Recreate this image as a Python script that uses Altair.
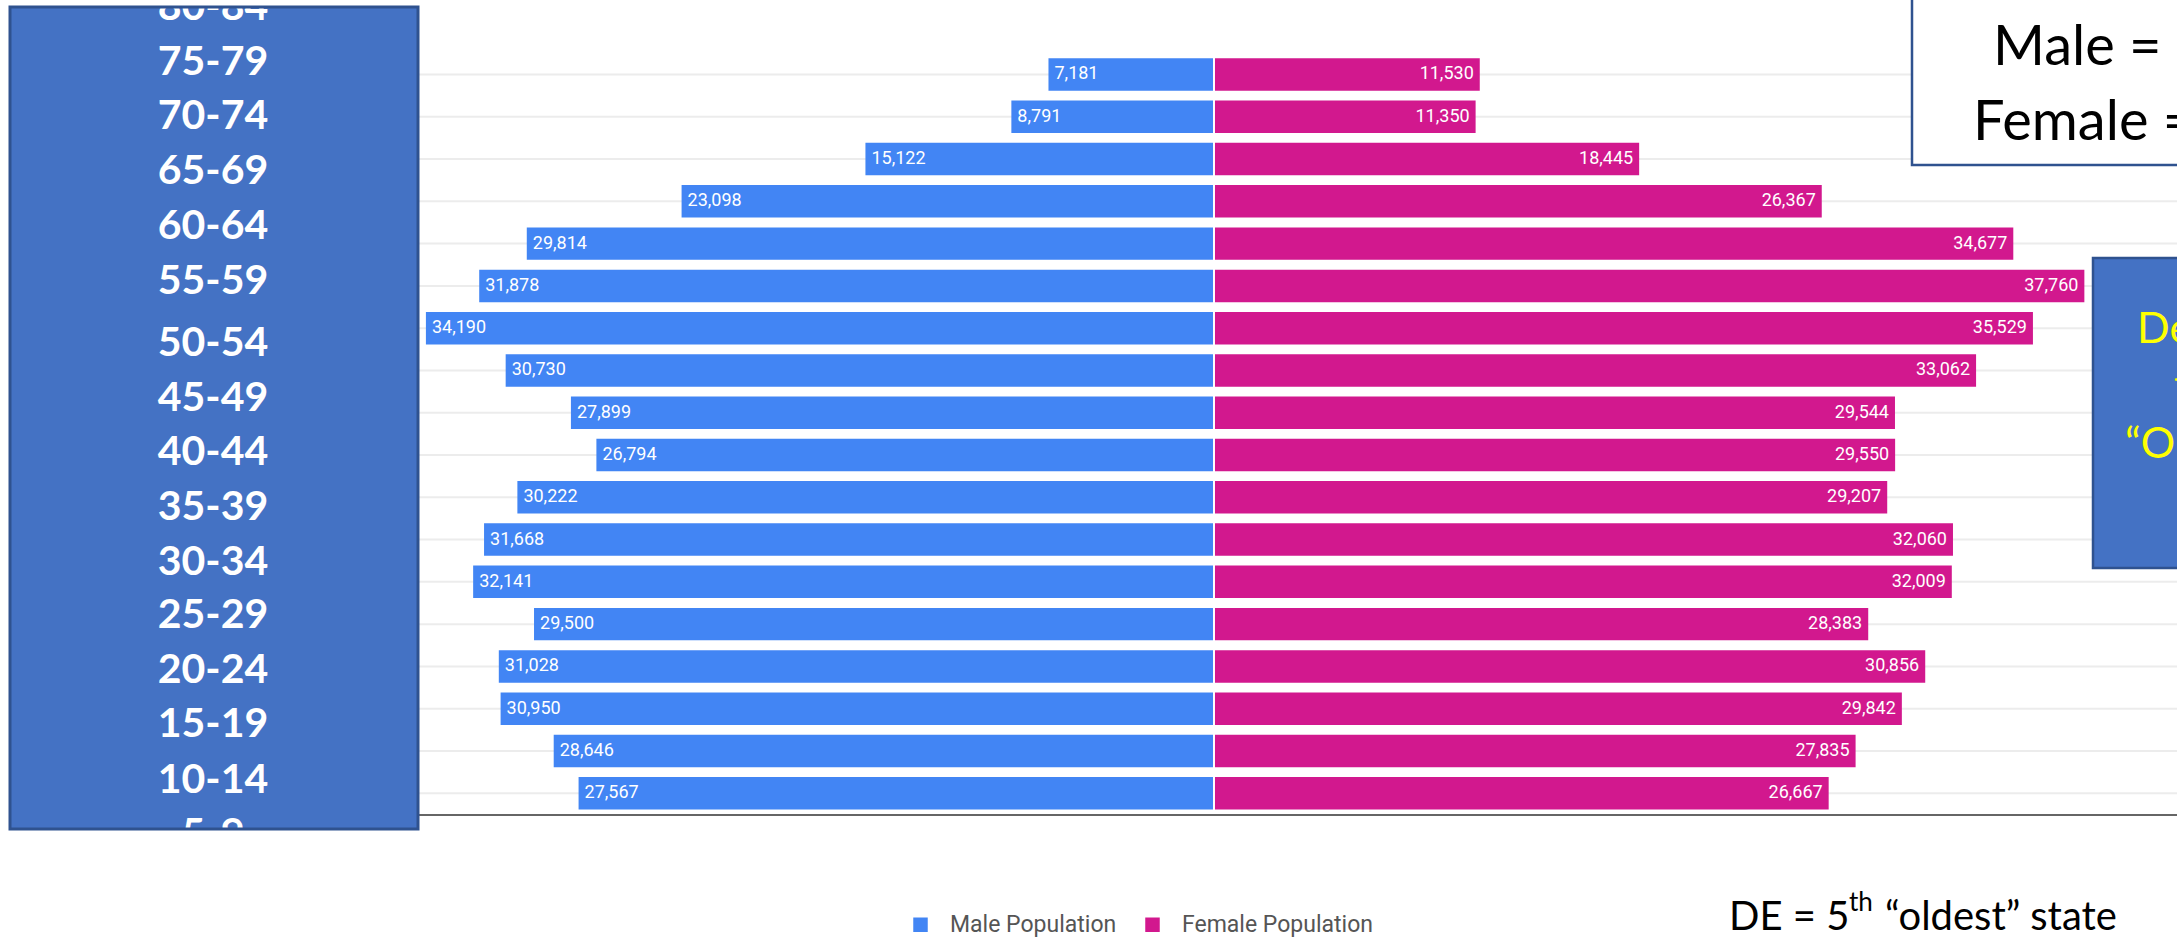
import altair as alt
import pandas as pd
import numpy as np

# ---------------- data ----------------
age_groups = ["85+", "80-84", "75-79", "70-74", "65-69", "60-64", "55-59", "50-54", "45-49",
              "40-44", "35-39", "30-34", "25-29", "20-24", "15-19", "10-14", "5-9", "0-4"]
male = [7181, 8791, 15122, 23098, 29814, 31878, 34190, 30730, 27899,
        26794, 30222, 31668, 32141, 29500, 31028, 30950, 28646, 27567]
female = [11530, 11350, 18445, 26367, 34677, 37760, 35529, 33062, 29544,
          29550, 29207, 32060, 32009, 28383, 30856, 29842, 27835, 26667]
box_labels = ["80-84", "75-79", "70-74", "65-69", "60-64", "55-59", "50-54", "45-49",
              "40-44", "35-39", "30-34", "25-29", "20-24", "15-19", "10-14", "5-9"]
series = ["Male Population", "Female Population"]
colors = ["#4285F4", "#D2188E"]

# ---------------- layout (pixels) ----------------
W, H = 2177, 951
BOX_BLUE = "#4472C4"
BOX_EDGE = "#2F528F"
LATO = "Lato"
LABEL_Y = [8, 63, 117, 172, 227, 282, 344, 399, 453, 508, 563, 616, 671, 725, 781, 835]

n = len(age_groups)
rows = pd.DataFrame({"age": age_groups, "row": np.arange(n)})
half = 0.384
male_df = pd.DataFrame({"age": age_groups, "row": np.arange(n), "series": series[0],
                        "value": [-v for v in male], "label": [f"{v:,}" for v in male]})
female_df = pd.DataFrame({"age": age_groups, "row": np.arange(n), "series": series[1],
                          "value": female, "label": [f"{v:,}" for v in female]})
bars_df = pd.concat([male_df, female_df], ignore_index=True)
bars_df["y0"] = bars_df["row"] - half
bars_df["y1"] = bars_df["row"] + half

box_df = pd.DataFrame({"label": box_labels, "py": LABEL_Y})

one = pd.DataFrame({"a": [0]})

xs = alt.Scale(domain=[-52668, 41779], nice=False, zero=False)
ys = alt.Scale(domain=[-1.762, 20.731], nice=False, zero=False, reverse=True)

# gridlines at row centres
grid = alt.Chart(rows).mark_rule(color="#ececec", strokeWidth=2).encode(
    y=alt.Y("row:Q", scale=ys, axis=None),
    x=alt.value(418), x2=alt.value(W),
)

bars = alt.Chart(bars_df).mark_rect().encode(
    x=alt.X("value:Q", scale=xs, axis=None),
    x2=alt.datum(0),
    y=alt.Y("y0:Q", scale=ys, axis=None),
    y2="y1:Q",
    color=alt.Color("series:N", scale=alt.Scale(domain=series, range=colors),
                    legend=alt.Legend(orient="none", legendX=909, legendY=913,
                                      direction="horizontal", title=None,
                                      symbolType="square", symbolSize=210,
                                      symbolStrokeWidth=0, labelFont="Roboto",
                                      labelFontSize=23, labelColor="#555555",
                                      labelLimit=500,
                                      labelOffset=18, columnPadding=24, padding=0)),
)

sep_df = pd.DataFrame({"x": [0], "y0": [-0.45], "y1": [n - 1 + 0.45]})
sep = alt.Chart(sep_df).mark_rule(color="white", strokeWidth=2).encode(
    x=alt.X("x:Q", scale=xs, axis=None),
    y=alt.Y("y0:Q", scale=ys, axis=None), y2="y1:Q",
)

male_lbl = alt.Chart(male_df).mark_text(align="left", baseline="middle", dx=6,
                                        font="Roboto", fontSize=18, color="white").encode(
    x=alt.X("value:Q", scale=xs, axis=None),
    y=alt.Y("row:Q", scale=ys, axis=None),
    text="label:N",
)
female_lbl = alt.Chart(female_df).mark_text(align="right", baseline="middle", dx=-6,
                                            font="Roboto", fontSize=18, color="white").encode(
    x=alt.X("value:Q", scale=xs, axis=None),
    y=alt.Y("row:Q", scale=ys, axis=None),
    text="label:N",
)

axis_line = alt.Chart(one).mark_rule(color="#666666", strokeWidth=2).encode(
    x=alt.value(418), x2=alt.value(W), y=alt.value(815),
)

# left label box
lbox = alt.Chart(one).mark_rect(fill=BOX_BLUE).encode(
    x=alt.value(10), x2=alt.value(418), y=alt.value(7), y2=alt.value(829),
)
lbox_text = alt.Chart(box_df).mark_text(font=LATO, fontWeight="bold", fontSize=41,
                                        color="white", align="center", baseline="middle").encode(
    x=alt.value(213),
    y=alt.Y("py:Q", scale=None, axis=None),
    text="label:N",
)
lbox_edge = alt.Chart(one).mark_rect(fill="white", fillOpacity=0, stroke=BOX_EDGE,
                                     strokeWidth=3).encode(
    x=alt.value(10), x2=alt.value(418), y=alt.value(7), y2=alt.value(829),
)

# top-right white box
tr_box = alt.Chart(one).mark_rect(fill="white", stroke=BOX_EDGE, strokeWidth=2.5).encode(
    x=alt.value(1912), x2=alt.value(2260), y=alt.value(-20), y2=alt.value(165),
)
tr_t1 = alt.Chart(one).mark_text(text="Male =", font=LATO, fontSize=56, color="black",
                                 align="left", baseline="alphabetic").encode(
    x=alt.value(1993), y=alt.value(65))
tr_t2 = alt.Chart(one).mark_text(text="Female =", font=LATO, fontSize=56, color="black",
                                 align="left", baseline="alphabetic").encode(
    x=alt.value(1973), y=alt.value(140))

# mid-right blue box
mr_box = alt.Chart(one).mark_rect(fill=BOX_BLUE, stroke=BOX_EDGE, strokeWidth=2.5).encode(
    x=alt.value(2093), x2=alt.value(2260), y=alt.value(258), y2=alt.value(568),
)
mr_lines = []
for txt, xx, yy in [("Delaware is", 2137, 343), ("the 5th", 2174, 400), ("\u201cOldest\u201d state", 2125, 458)]:
    mr_lines.append(alt.Chart(one).mark_text(text=txt, font=LATO, fontSize=43, color="#FFFF00",
                                             align="left", baseline="alphabetic").encode(
        x=alt.value(xx), y=alt.value(yy)))

# bottom note
note1 = alt.Chart(one).mark_text(text="DE = 5", font=LATO, fontSize=40, color="black",
                                 align="left", baseline="alphabetic").encode(
    x=alt.value(1729), y=alt.value(930))
note2 = alt.Chart(one).mark_text(text="th", font=LATO, fontSize=26, color="black",
                                 align="left", baseline="alphabetic").encode(
    x=alt.value(1849), y=alt.value(911))
note3 = alt.Chart(one).mark_text(text="\u201coldest\u201d state", font=LATO, fontSize=40, color="black",
                                 align="left", baseline="alphabetic").encode(
    x=alt.value(1885), y=alt.value(930))

chart = alt.layer(
    grid, bars, sep, male_lbl, female_lbl, axis_line,
    lbox, lbox_text, lbox_edge,
    tr_box, tr_t1, tr_t2,
    mr_box, *mr_lines,
    note1, note2, note3,
).properties(
    width=W, height=H, padding=0,
    autosize=alt.AutoSizeParams(type="none"),
    background="white",
).configure_view(stroke=None)

chart.save("out.html", embed_options={"renderer": "svg", "actions": False})
